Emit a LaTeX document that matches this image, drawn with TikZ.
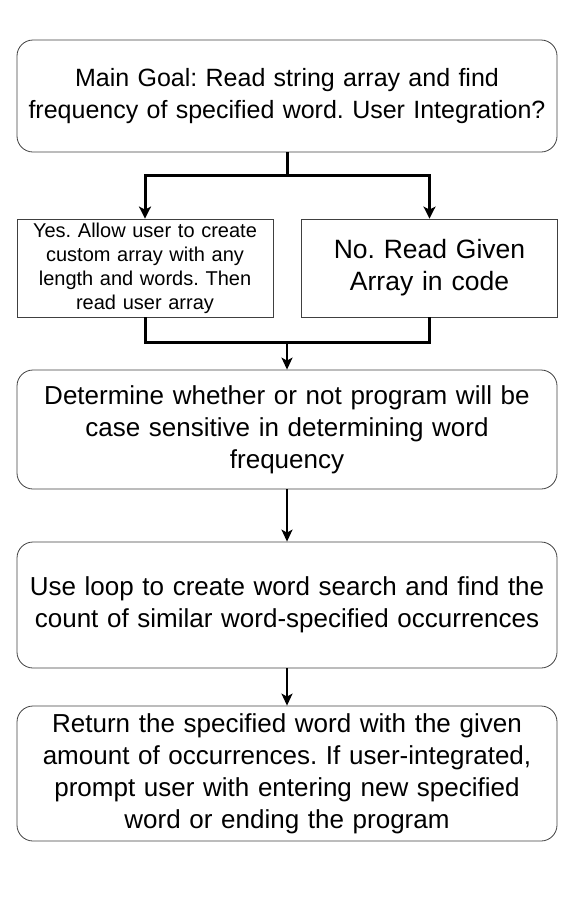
\documentclass[tikz,border=0pt]{standalone}
\usepackage{fontspec}
\setmainfont{Liberation Sans}
\usetikzlibrary{arrows.meta,positioning,calc}
\frenchspacing

\begin{document}
\begin{tikzpicture}[x=1pt,y=-1pt,
	stepbox/.style={draw=black!75, line width=0.8pt, rounded corners=16pt, minimum width=540pt, text width=540pt, align=center, inner sep=0pt, font=\fontsize{26}{32}\selectfont},
	choicebox/.style={draw=black!75, line width=0.8pt, minimum width=256pt, minimum height=98pt, text width=252pt, align=center, inner sep=0pt},
	branch/.style={line width=3pt, -{Stealth[length=12pt,width=12pt,inset=3pt]}},
	flow/.style={line width=2pt, -{Stealth[length=12pt,width=11pt,inset=3pt]}}]
	\useasboundingbox (0,0) rectangle (572,903);

	% Goal and user choice
	\node[stepbox, minimum height=112pt, font=\fontsize{25}{32}\selectfont] (goal) at (287,96) {Main Goal: Read string array and find\\frequency of specified word. User Integration?};
	\node[choicebox, font=\fontsize{20}{24}\selectfont] (yes) at (145,268) {Yes. Allow user to create\\custom array with any\\length and words. Then\\read user array};
	\node[choicebox, font=\fontsize{26.5}{32}\selectfont] (no) at (429.5,268) {No. Read Given\\Array in code};

	\coordinate (split) at (287,175);
	\coordinate (merge) at (287,342);

	% Remaining steps
	\node[stepbox, minimum height=119pt] (case) at (287,429.5) {Determine whether or not program will be\\case sensitive in determining word\\frequency};
	\node[stepbox, minimum height=126pt] (search) at (287,605) {Use loop to create word search and find the\\count of similar word-specified occurrences};
	\node[stepbox, minimum height=135pt] (result) at (287,773.5) {Return the specified word with the given\\amount of occurrences. If user-integrated,\\prompt user with entering new specified\\word or ending the program};

	% Connectors
	\draw[line width=3pt] (goal.south) -- (split);
	\draw[branch] (split) -| (yes.north);
	\draw[branch] (split) -| (no.north);
	\draw[line width=3pt] (yes.south) |- (merge);
	\draw[line width=3pt] (no.south) |- (merge);
	\draw[flow] (merge) -- (case.north);
	\draw[flow] (case.south) -- (search.north);
	\draw[flow] (search.south) -- (result.north);
\end{tikzpicture}
\end{document}
